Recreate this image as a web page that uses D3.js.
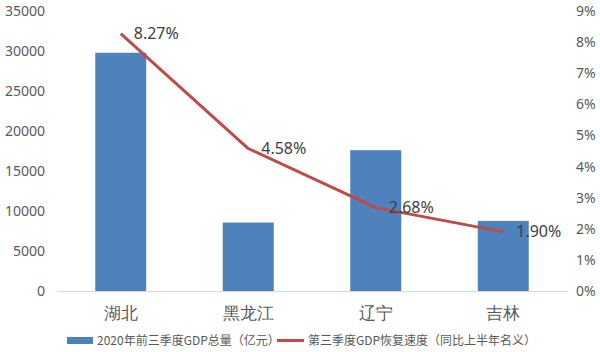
<!DOCTYPE html>
<html><head><meta charset="utf-8">
<script src="https://cdn.jsdelivr.net/npm/d3@7"></script>
<style>
body{margin:0;background:#fff;}
svg{display:block;font-family:"Noto Sans CJK SC","Noto Sans",sans-serif;}
</style></head>
<body><svg id="c" width="600" height="352"></svg>
<script>
const categories = ["湖北","黑龙江","辽宁","吉林"];
const gdpValues = [29779, 8560, 17600, 8760];
const growthValues = [8.27, 4.58, 2.68, 1.90];
const leftTicks = [0,5000,10000,15000,20000,25000,30000,35000];
const rightTicks = [0,1,2,3,4,5,6,7,8,9];
const seriesNames = ["2020年前三季度GDP总量（亿元）","第三季度GDP恢复速度（同比上半年名义）"];

(function(){
const svg = d3.select("#c");
const pL = 57, pR = 567, pT = 11, pB = 291;
const textColor = "#595959";
const barColor = "#4F81BD";
const lineColor = "#BE4B48";

const x = d3.scaleBand().domain(categories).range([pL,pR]).paddingInner(0.6).paddingOuter(0.3);
const xp = d3.scalePoint().domain(categories).range([pL,pR]).padding(0.5);
const yL = d3.scaleLinear().domain([0,35000]).range([pB,pT]);
const yR = d3.scaleLinear().domain([0,9]).range([pB,pT]);

const gL = svg.append("g").attr("transform",`translate(${pL-12},0)`)
  .call(d3.axisLeft(yL).tickValues(leftTicks).tickSize(0).tickPadding(0).tickFormat(d3.format("d")));
gL.select(".domain").remove();
gL.selectAll("text").attr("fill",textColor).style("font-size","14px").style("font-family","'Noto Sans',sans-serif");

const gR = svg.append("g").attr("transform",`translate(${pR+9},0)`)
  .call(d3.axisRight(yR).tickValues(rightTicks).tickSize(0).tickPadding(0).tickFormat(d=>d+"%"));
gR.select(".domain").remove();
gR.selectAll("text").attr("fill",textColor).style("font-size","14px").style("font-family","'Noto Sans',sans-serif");

svg.append("g").selectAll("rect").data(categories).join("rect")
  .attr("x",d=>x(d)).attr("width",x.bandwidth())
  .attr("y",(d,i)=>yL(gdpValues[i])).attr("height",(d,i)=>pB-yL(gdpValues[i]))
  .attr("fill",barColor);

const gX = svg.append("g").attr("transform",`translate(0,${pB})`)
  .call(d3.axisBottom(x).tickSize(0).tickPadding(16));
gX.select(".domain").attr("stroke","#d9d9d9").attr("stroke-width",1);
gX.selectAll("text").attr("fill",textColor).style("font-size","17px");

const line = d3.line().x((d,i)=>xp(categories[i])).y(d=>yR(d));
svg.append("path").datum(growthValues).attr("d",line)
  .attr("fill","none").attr("stroke",lineColor).attr("stroke-width",3).attr("stroke-linejoin","round");

svg.append("g").selectAll("text").data(growthValues).join("text")
  .attr("x",(d,i)=>xp(categories[i])+13).attr("y",d=>yR(d)).attr("dy","0.35em")
  .attr("fill","#404040").style("font-size","16px").style("font-family","'Noto Sans',sans-serif")
  .text(d=>d.toFixed(2)+"%");

const lg = svg.append("g");
lg.append("rect").attr("x",67).attr("y",337).attr("width",26).attr("height",7).attr("fill",barColor);
lg.append("text").attr("x",97).attr("y",341).attr("dy","0.35em").attr("fill",textColor).style("font-size","12px").text(seriesNames[0]);
lg.append("line").attr("x1",277).attr("x2",304).attr("y1",340.5).attr("y2",340.5).attr("stroke",lineColor).attr("stroke-width",3);
lg.append("text").attr("x",308).attr("y",341).attr("dy","0.35em").attr("fill",textColor).style("font-size","12px").text(seriesNames[1]);
})();
</script></body></html>
